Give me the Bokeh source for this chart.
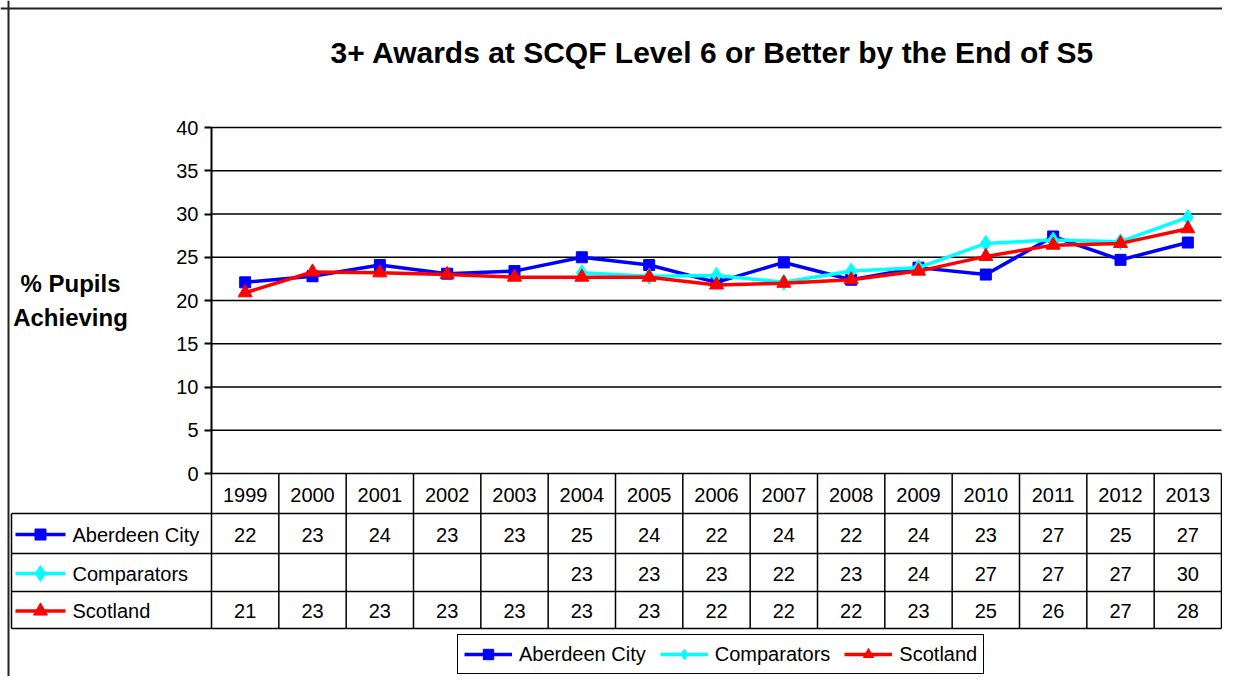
from bokeh.plotting import figure
from bokeh.models import LinearAxis, FixedTicker, Legend, LegendItem, Span
from bokeh.core.properties import value
from bokeh.embed import file_html
from bokeh.resources import INLINE

# ---------------- data ----------------
YEARS = ["1999", "2000", "2001", "2002", "2003", "2004", "2005", "2006",
         "2007", "2008", "2009", "2010", "2011", "2012", "2013"]
ABERDEEN = [22.1, 22.8, 24.1, 23.1, 23.4, 25.0, 24.1, 22.1,
            24.4, 22.4, 23.8, 23.0, 27.4, 24.7, 26.7]
COMPARATORS = [None, None, None, None, None, 23.2, 22.8, 22.9,
               22.1, 23.4, 23.8, 26.6, 27.0, 26.8, 29.6]
SCOTLAND = [20.9, 23.3, 23.2, 23.0, 22.7, 22.7, 22.7, 21.8,
            22.0, 22.4, 23.4, 25.1, 26.4, 26.6, 28.3]
SERIES_NAMES = ["Aberdeen City", "Comparators", "Scotland"]
Y_TICKS = [0, 5, 10, 15, 20, 25, 30, 35, 40]
TITLE = "3+ Awards at SCQF Level 6 or Better by the End of S5"
Y_LABEL = "% Pupils\nAchieving"

# ---------------- layout (pixel geometry) ----------------
W, H = 1222, 676
PLOT_LEFT = 211        # canvas x of the value axis
TABLE_RIGHT = 1221     # canvas x of the table's right edge
COL_PX = (TABLE_RIGHT - PLOT_LEFT) / len(YEARS)   # width of one year column
ZERO_Y = 473           # canvas y of value 0
UNIT_PX = 8.65         # pixels per value unit

x_start = -0.5 - PLOT_LEFT / COL_PX
x_end = x_start + W / COL_PX
y_end = ZERO_Y / UNIT_PX
y_start = y_end - H / UNIT_PX


def dx(c):
    return x_start + c / COL_PX


def dy(c):
    return (ZERO_Y - c) / UNIT_PX


FONT = value("Liberation Sans")
FS = "20px"

p = figure(width=W, height=H, x_range=(x_start, x_end), y_range=(y_start, y_end),
           x_axis_type=None, y_axis_type=None, toolbar_location=None,
           output_backend="svg", min_border=0, title_location=None)
p.outline_line_color = None
p.grid.visible = False
p.background_fill_color = "white"
p.border_fill_color = "white"

# value axis drawn at the left edge of the plot area
yaxis = LinearAxis(fixed_location=-0.5, bounds=(0, 40),
                   ticker=FixedTicker(ticks=Y_TICKS))
yaxis.axis_line_color = "black"
yaxis.axis_line_width = 2
yaxis.major_tick_line_color = "black"
yaxis.major_tick_line_width = 2
yaxis.major_tick_out = 7
yaxis.major_tick_in = 0
yaxis.minor_tick_line_color = None
yaxis.major_label_text_font = "Liberation Sans"
yaxis.major_label_text_font_size = FS
yaxis.major_label_text_color = "black"
yaxis.major_label_standoff = 6
p.add_layout(yaxis, "left")

# horizontal gridlines
grid_end = dx(TABLE_RIGHT)
gt = Y_TICKS[1:]
p.segment(x0=[-0.5] * len(gt), y0=gt, x1=[grid_end] * len(gt), y1=gt,
          line_color="black", line_width=1.5)

# ---------------- series ----------------
xs = list(range(len(YEARS)))


def clean(vals):
    return [float("nan") if v is None else v for v in vals]


styles = [
    (ABERDEEN, "#0000FF", "square", 11),
    (COMPARATORS, "#00FFFF", "diamond", 16),
    (SCOTLAND, "#FF0000", "triangle", 14),
]
renderers = []
for vals, col, mk, sz in styles:
    rl = p.line(x=xs, y=clean(vals), line_color=col, line_width=3.5)
    rm = p.scatter(x=xs, y=clean(vals), marker=mk, size=sz,
                   fill_color=col, line_color=col)
    renderers.append((rl, rm))

# ---------------- data table ----------------
TABLE_LEFT = 11
ROW_EDGES = [473, 513, 553, 591, 628]
bottom = dy(ROW_EDGES[-1])
# vertical lines
vx = [k - 0.5 for k in range(len(YEARS) + 1)]
p.segment(x0=vx, y0=[0] * len(vx), x1=vx, y1=[bottom] * len(vx),
          line_color="black", line_width=1.5)
p.segment(x0=[dx(TABLE_LEFT)], y0=[dy(ROW_EDGES[1])], x1=[dx(TABLE_LEFT)], y1=[bottom],
          line_color="black", line_width=1.5)
# horizontal lines
p.segment(x0=[-0.5], y0=[0], x1=[len(YEARS) - 0.5], y1=[0],
          line_color="black", line_width=1.5)
hy = [dy(r) for r in ROW_EDGES[1:]]
p.segment(x0=[dx(TABLE_LEFT)] * len(hy), y0=hy, x1=[len(YEARS) - 0.5] * len(hy), y1=hy,
          line_color="black", line_width=1.5)

# header
p.text(x=xs, y=[dy((ROW_EDGES[0] + ROW_EDGES[1]) / 2 + 1)] * len(xs), text=YEARS,
       text_font=FONT, text_font_size=FS, text_align="center",
       text_baseline="middle", text_color="black")

for i, (vals, col, mk, sz) in enumerate(styles):
    ymid = dy((ROW_EDGES[i + 1] + ROW_EDGES[i + 2]) / 2 + 1)
    cx = [x for x, v in zip(xs, vals) if v is not None]
    labels = ["%d" % int(round(v)) for v in vals if v is not None]
    p.text(x=cx, y=[ymid] * len(cx), text=labels, text_font=FONT,
           text_font_size=FS, text_align="center", text_baseline="middle",
           text_color="black")
    # row key
    p.segment(x0=[dx(15)], y0=[ymid], x1=[dx(65)], y1=[ymid], line_color=col, line_width=3.5)
    p.scatter(x=[dx(40)], y=[ymid], marker=mk, size=sz, fill_color=col, line_color=col)
    p.text(x=[dx(72)], y=[ymid], text=[SERIES_NAMES[i]], text_font=FONT,
           text_font_size=FS, text_align="left", text_baseline="middle",
           text_color="black")

# ---------------- titles ----------------
p.text(x=[dx(712)], y=[dy(52)], text=[TITLE], text_font=FONT, text_font_style="bold",
       text_font_size="30px", text_align="center", text_baseline="middle",
       text_color="black")
p.text(x=[dx(70)], y=[dy(300)], text=[Y_LABEL], text_font=FONT, text_font_style="bold",
       text_font_size="24px", text_align="center", text_baseline="middle",
       text_line_height=1.25, text_color="black")

# ---------------- legend ----------------
legend = Legend(items=[LegendItem(label=n, renderers=list(r))
                       for n, r in zip(SERIES_NAMES, renderers)],
                orientation="horizontal", location=(457, 2),
                glyph_width=48, glyph_height=26, label_standoff=7, spacing=14,
                padding=6, margin=0, label_text_font="Liberation Sans",
                label_text_font_size=FS, label_text_color="black",
                border_line_color="black", border_line_width=1.5,
                border_line_alpha=1, background_fill_alpha=1)
p.add_layout(legend)

# ---------------- chart border (left/top) ----------------
p.add_layout(Span(location=dx(8), dimension="height", line_color="#222222", line_width=2))
p.add_layout(Span(location=dy(8), dimension="width", line_color="#222222", line_width=2))

open("out.html", "w").write(file_html(p, INLINE))
